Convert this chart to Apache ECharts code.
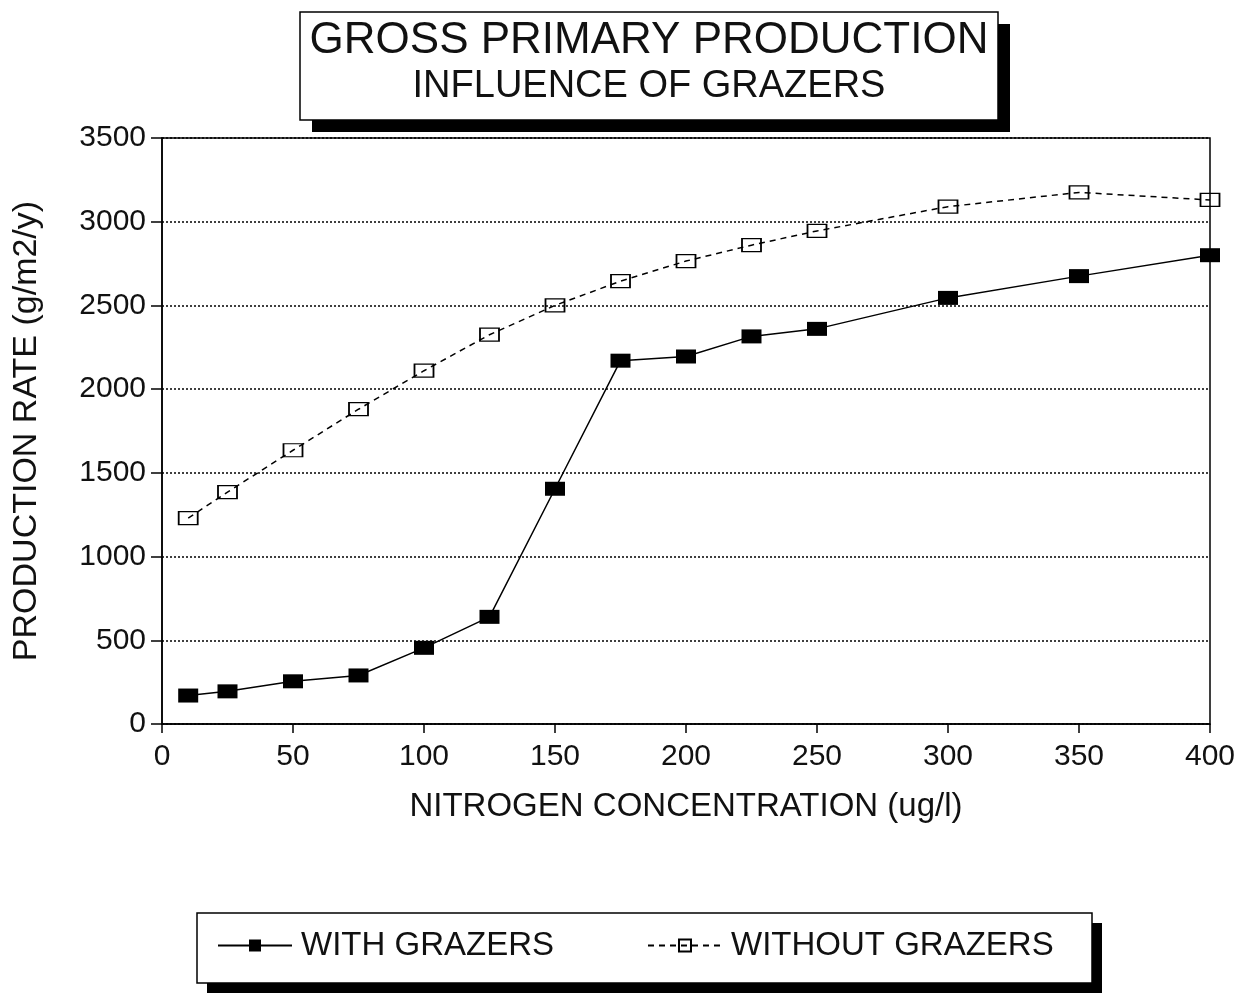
<!DOCTYPE html>
<html><head><meta charset="utf-8">
<script src="https://cdn.jsdelivr.net/npm/echarts@6/dist/echarts.min.js"></script>
<style>html,body{margin:0;padding:0;background:#fff}#c{width:1240px;height:993px}</style>
</head><body><div id="c"></div>
<script>
var nitrogen = [10, 25, 50, 75, 100, 125, 150, 175, 200, 225, 250, 300, 350, 400];
var withGrazers = [170, 195, 255, 290, 455, 640, 1405, 2170, 2195, 2315, 2360, 2545, 2675, 2800];
var withoutGrazers = [1230, 1385, 1635, 1880, 2110, 2325, 2500, 2645, 2765, 2860, 2945, 3090, 3175, 3130];
var titleMain = 'GROSS PRIMARY PRODUCTION';
var titleSub = 'INFLUENCE OF GRAZERS';
var FONT = '"Liberation Sans", Arial, sans-serif';

function pairs(xs, ys){ return xs.map(function(x,i){ return [x, ys[i]]; }); }

var chart = echarts.init(document.getElementById('c'));
chart.setOption({
  backgroundColor: '#fff',
  animation: false,
  grid: { left: 162, right: 30, top: 138, bottom: 269, show: true, borderColor: '#000', borderWidth: 1.5, backgroundColor: 'transparent' },
  xAxis: {
    type: 'value', min: 0, max: 400, interval: 50,
    name: 'NITROGEN CONCENTRATION (ug/l)', nameLocation: 'middle', nameGap: 66,
    nameTextStyle: { fontFamily: FONT, fontSize: 33, color: '#111' },
    axisLine: { lineStyle: { color: '#000', width: 1.5 } },
    axisTick: { show: true, length: 9, lineStyle: { color: '#000', width: 1.5 } },
    axisLabel: { fontFamily: FONT, fontSize: 30, color: '#111', margin: 18 },
    splitLine: { show: false }
  },
  yAxis: {
    type: 'value', min: 0, max: 3500, interval: 500,
    name: 'PRODUCTION RATE (g/m2/y)', nameLocation: 'middle', nameGap: 118,
    nameTextStyle: { fontFamily: FONT, fontSize: 34, color: '#111' },
    axisLine: { show: true, lineStyle: { color: '#000', width: 1.5 } },
    axisTick: { show: true, length: 11, lineStyle: { color: '#000', width: 1.5 } },
    axisLabel: { fontFamily: FONT, fontSize: 30, color: '#111', margin: 16, formatter: function(v){ return String(v); } },
    splitLine: { show: true, lineStyle: { type: [2, 2], color: '#000', width: 1.5 } }
  },
  legend: {
    left: 212, top: 924, itemGap: 93, itemWidth: 74, itemHeight: 15,
    textStyle: { fontFamily: FONT, fontSize: 33, color: '#111', padding: [0,0,0,4] },
    data: ['WITH GRAZERS', 'WITHOUT GRAZERS']
  },
  graphic: [
    { type: 'rect', z: 0, shape: { x: 312, y: 24, width: 698, height: 108 }, style: { fill: '#000' } },
    { type: 'rect', z: 1, shape: { x: 300, y: 12, width: 698, height: 108 }, style: { fill: '#fff', stroke: '#000', lineWidth: 1.5 } },
    { type: 'text', z: 2, style: { text: titleMain, font: '44px ' + FONT, fill: '#111', x: 649, y: 41, textAlign: 'center', textVerticalAlign: 'middle' } },
    { type: 'text', z: 2, style: { text: titleSub, font: '38px ' + FONT, fill: '#111', x: 649, y: 87, textAlign: 'center', textVerticalAlign: 'middle' } },
    { type: 'rect', z: 0, shape: { x: 207, y: 923, width: 895, height: 70 }, style: { fill: '#000' } },
    { type: 'rect', z: 1, shape: { x: 197, y: 913, width: 895, height: 70 }, style: { fill: '#fff', stroke: '#000', lineWidth: 1.5 } }
  ],
  series: [
    {
      name: 'WITH GRAZERS', type: 'line', data: pairs(nitrogen, withGrazers), z: 5,
      symbol: 'rect', symbolSize: [20, 14],
      lineStyle: { color: '#000', width: 1.5 },
      itemStyle: { color: '#000', borderColor: '#000', borderWidth: 0 }
    },
    {
      name: 'WITHOUT GRAZERS', type: 'line', data: pairs(nitrogen, withoutGrazers), z: 5,
      symbol: 'rect', symbolSize: [19, 13],
      lineStyle: { color: '#000', width: 1.5, type: [6, 5] },
      itemStyle: { color: 'rgba(255,255,255,0)', borderColor: '#000', borderWidth: 1.5 }
    }
  ]
});
</script></body></html>
